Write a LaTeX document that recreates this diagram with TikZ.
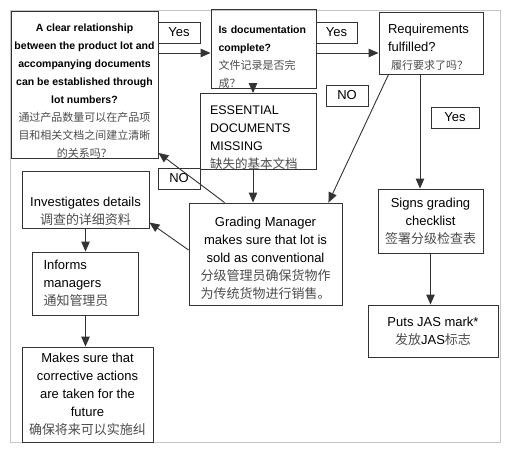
\documentclass[tikz,border=0pt]{standalone}
\usepackage{fontspec}
\setmainfont{Liberation Sans}
\newfontfamily\zhfont{Noto Sans CJK SC}
\usepackage{tikz}
\usetikzlibrary{arrows.meta, positioning}
\newcommand{\zhline}[2][]{{#1\zhfont\mdseries\color{black!70}#2}}
\tikzstyle{stepbox} = [rectangle, draw=black!80, line width=0.9pt, inner sep=0pt, font=\fontsize{13}{18}\selectfont]
\tikzstyle{answer} = [rectangle, draw=black!80, line width=0.9pt, minimum width=42pt, minimum height=21pt, inner sep=0pt, font=\fontsize{13}{13}\selectfont]
\tikzstyle{line} = [line width=0.9pt, draw=black!80, -{Triangle[length=10pt,width=8.5pt]}]

\begin{document}
\begin{tikzpicture}[x=1pt, y=-1pt, node distance=110pt]
    \useasboundingbox (0,0) rectangle (512,452);
    \draw [black!22, line width=0.8pt] (10,10) rectangle (500,442);

    \node (clear) [stepbox, minimum width=147pt, minimum height=146pt, align=center, font=\bfseries\fontsize{10.5}{18}\selectfont] at (84.5,85) {\rule{0pt}{20pt}A clear relationship\\ between the product lot and\\ accompanying documents\\ can be established through\\ lot numbers?\\ \zhline[\fontsize{11}{18}\selectfont]{通过产品数量可以在产品项}\\ \zhline[\fontsize{11}{18}\selectfont]{目和相关文档之间建立清晰}\\ \zhline[\fontsize{11}{18}\selectfont]{的关系吗？}};
    \node (doc) [stepbox, minimum width=105pt, minimum height=73pt, text width=90pt, align=left, font=\bfseries\fontsize{10.5}{18}\selectfont] at (263.5,48.5) {\rule{0pt}{24pt}Is documentation\\ complete?\\ \zhline[\fontsize{11}{18}\selectfont]{文件记录是否完}\\ \zhline[\fontsize{11}{18}\selectfont]{成？}};
    \node (req) [stepbox, minimum width=104pt, minimum height=62pt, text width=86pt, align=left] at (431,43) {\rule{0pt}{17.5pt}Requirements\\ fulfilled?\\ \hspace*{3pt}\zhline[\fontsize{11}{18}\selectfont]{履行要求了吗？}};
    \node (missing) [stepbox, minimum width=116pt, minimum height=73pt, text width=96pt, align=left, font=\fontsize{12.5}{18}\selectfont] at (258,131.5) {\rule{0pt}{21pt}ESSENTIAL\\ DOCUMENTS\\ MISSING\\ \zhline{缺失的基本文档}};
    \node (manager) [stepbox, minimum width=153pt, minimum height=102pt, align=center] at (265.5,254) {\rule{0pt}{17.5pt}Grading Manager\\ makes sure that lot is\\ sold as conventional\\ \zhline{分级管理员确保货物作}\\ \zhline{为传统货物进行销售。}};
    \node (details) [stepbox, minimum width=127pt, minimum height=57pt, align=center] at (85.5,199.5) {\rule{0pt}{34pt}Investigates details\\ \zhline{调查的详细资料}};
    \node (informs) [stepbox, minimum width=106pt, minimum height=63pt, text width=84pt, align=left, below of=details, yshift=26pt] {Informs\\ managers\\ \zhline{通知管理员}};
    \node (future) [stepbox, minimum width=131pt, minimum height=95pt, align=center] at (87.5,394.5) {Makes sure that\\ corrective actions\\ are taken for the\\ future\\ \zhline{确保将来可以实施纠}};
    \node (signs) [stepbox, minimum width=105pt, minimum height=64pt, align=center] at (430.5,221) {Signs grading\\ checklist\\ \zhline{签署分级检查表}};
    \node (jas) [stepbox, minimum width=130pt, minimum height=52pt, align=center, below of=signs, xshift=2.5pt] {Puts JAS mark*\\ \zhline{发放}JAS\zhline{标志}};

    \node (yes1) [answer] at (179,32.5) {Yes};
    \node (yes2) [answer, minimum width=41pt] at (336.5,32.5) {Yes};
    \node (no1) [answer] at (347,95.5) {NO};
    \node (yes3) [answer, minimum width=48pt] at (455,117.5) {Yes};
    \node (no2) [answer] at (179,178.5) {NO};

    \draw [line] ([yshift=-4.5pt]doc.west -| clear.east) -- ([yshift=-4.5pt]doc.west);
    \draw [line] ([yshift=-4.5pt]doc.east) -- ([yshift=-4.5pt]doc.east -| req.west);
    \draw [line] ([xshift=-5pt]missing.north |- doc.south) -- ([xshift=-5pt]missing.north);
    \draw [line] ([xshift=-5pt]missing.south) -- ([xshift=-5pt]missing.south |- manager.north);
    \draw [line] ([xshift=10pt]req.south west) -- ([xshift=-14pt]manager.north east);
    \draw [line] ([xshift=-11pt]req.south) -- ([xshift=-11pt]req.south |- signs.north);
    \draw [line] ([xshift=36pt]manager.north west) -- ([yshift=6pt]clear.south east);
    \draw [line] ([yshift=4pt]manager.west) -- ([yshift=-23pt]details.east);
    \draw [line] (details.south) -- (details.south |- informs.north);
    \draw [line] (informs.south) -- (informs.south |- future.north);
    \draw [line] (signs.south) -- (signs.south |- jas.north);
\end{tikzpicture}
\end{document}
